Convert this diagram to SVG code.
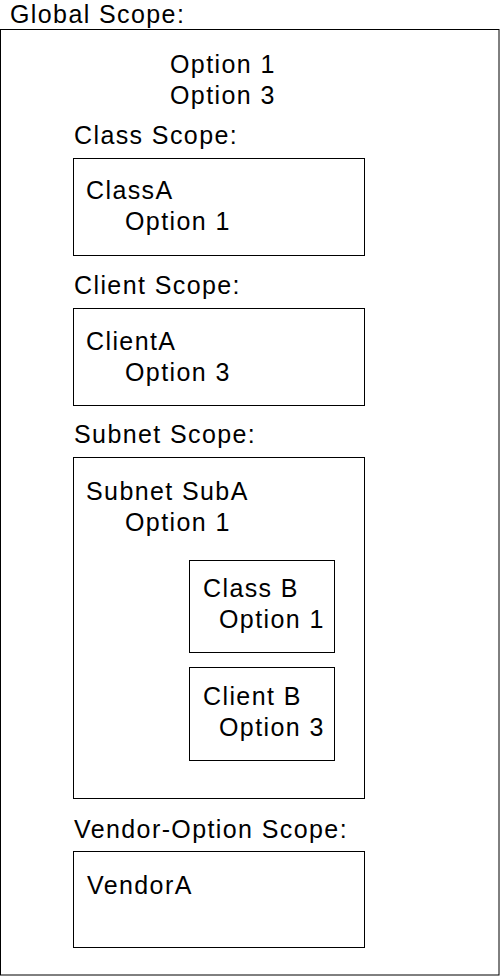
<svg xmlns="http://www.w3.org/2000/svg" width="500" height="976" viewBox="0 0 500 976">
<style>
text{font-family:"Liberation Sans",Arial,sans-serif;font-size:25px;letter-spacing:1.4px;fill:#000}
rect{fill:none;stroke:#000;stroke-width:1}
</style>
<rect x="0" y="0" width="500" height="976" style="fill:#fff;stroke:none"/>
<g id="global">
<text x="10" y="23">Global Scope:</text>
<rect x="0.5" y="29.5" width="498.5" height="945.5"/>
<text x="170" y="73">Option 1</text>
<text x="170" y="104">Option 3</text>
</g>
<g id="class-scope">
<text x="74" y="144">Class Scope:</text>
<rect x="73.5" y="158.5" width="291" height="97"/>
<text x="86" y="199">ClassA</text>
<text x="125" y="230">Option 1</text>
</g>
<g id="client-scope">
<text x="74" y="294">Client Scope:</text>
<rect x="73.5" y="308.5" width="291" height="97"/>
<text x="86" y="350">ClientA</text>
<text x="125" y="381">Option 3</text>
</g>
<g id="subnet-scope">
<text x="74" y="443">Subnet Scope:</text>
<rect x="73.5" y="457.5" width="291" height="341"/>
<text x="86" y="500">Subnet SubA</text>
<text x="125" y="531">Option 1</text>
</g>
<g id="class-b">
<rect x="189.5" y="560.5" width="145" height="92"/>
<text x="203" y="597">Class B</text>
<text x="219" y="628">Option 1</text>
</g>
<g id="client-b">
<rect x="189.5" y="667.5" width="145" height="93"/>
<text x="203" y="705">Client B</text>
<text x="219" y="736">Option 3</text>
</g>
<g id="vendor-scope">
<text x="74" y="838">Vendor-Option Scope:</text>
<rect x="73.5" y="851.5" width="291" height="96"/>
<text x="87" y="894">VendorA</text>
</g>
<g id="connectors"></g>
</svg>
